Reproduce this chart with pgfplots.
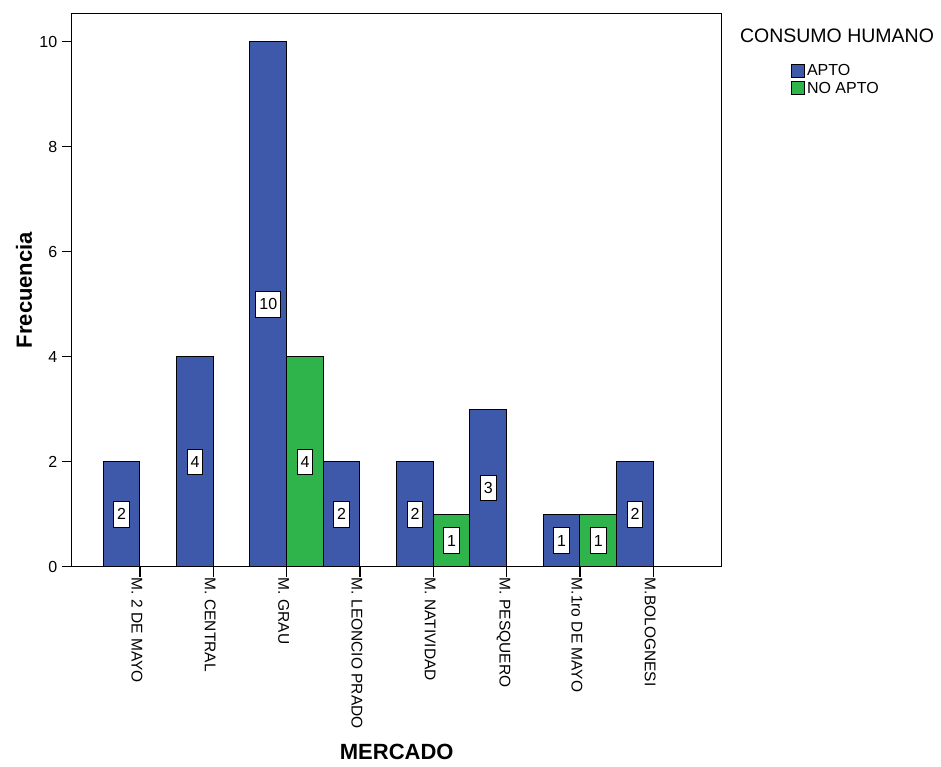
\documentclass[border=0pt]{standalone}
\usepackage{pgfplots}
\pgfplotsset{compat=1.18}
\usepackage{fontspec}
\setmainfont{Liberation Sans}
\definecolor{apto}{RGB}{62,88,170}
\definecolor{noapto}{RGB}{46,180,74}
\begin{document}
\begin{tikzpicture}
\path[use as bounding box] (-71.7pt,-200.3pt) rectangle (869.3pt,566.7pt);
\begin{axis}[
  at={(0pt,0pt)}, anchor=south west,
  scale only axis, width=650pt, height=553.3pt,
  xmin=-0.931, xmax=7.933, ymin=0, ymax=10.54,
  ybar=0pt, bar width=0.5,
  axis line style={line width=1.2pt},
  tick style={line width=1.2pt, black},
  tick align=outside, major tick length=10pt,
  xtick pos=left, ytick pos=left,
  xtick={0,...,7},
  xticklabels={M. 2 DE MAYO, M. CENTRAL, M. GRAU, M. LEONCIO PRADO, M. NATIVIDAD, M. PESQUERO, M.1ro DE MAYO, M.BOLOGNESI},
  ytick={0,2,4,6,8,10},
  /pgf/number format/assume math mode=true,
  yticklabel style={font=\fontsize{16}{19}\selectfont, xshift=-1pt},
  xticklabel style={font=\fontsize{15.5}{18}\selectfont, shift={(-3pt,-1pt)}, rotate=-90, anchor=west, inner sep=0pt},
  ylabel={\textbf{Frecuencia}},
  xlabel={\textbf{MERCADO}},
  label style={font=\fontsize{22}{26}\selectfont},
  ylabel style={at={(axis description cs:-0.0734,0.5)}, anchor=center},
  xlabel style={at={(axis description cs:0.5,-0.335)}, anchor=center},
  legend image code/.code={\draw[#1, line width=0.8pt] (0pt,-6.5pt) rectangle (13pt,6.5pt);},
  legend style={at={(axis description cs:1.1066,0.91)}, anchor=north west, draw=none, fill=none,
    inner sep=0pt, row sep=3pt, font=\fontsize{16}{19}\selectfont, cells={anchor=west},
    nodes={inner xsep=2pt, inner ysep=1pt}},
  nodes near coords,
  visualization depends on={rawy \as \rawy},
  every node near coord/.append style={anchor=center, shift={(axis direction cs:0,-0.5*\rawy)},
    draw=black, fill=white, line width=0.9pt, font=\fontsize{16}{19}\selectfont,
    inner xsep=3.5pt, inner ysep=7pt, text height=11.5pt, text depth=0pt},
]
\addplot[fill=apto, draw=black, line width=1pt] coordinates {
  (0,2) (1,4) (2,10) (3,2) (4,2) (5,3) (6,1) (7,2)};
\addplot[fill=noapto, draw=black, line width=1pt] coordinates {
  (2,4) (4,1) (6,1)};
\legend{APTO, NO APTO}
\end{axis}
\node[font=\fontsize{19.5}{22}\selectfont] at (765.3pt,530.7pt) {CONSUMO HUMANO};
\end{tikzpicture}
\end{document}
